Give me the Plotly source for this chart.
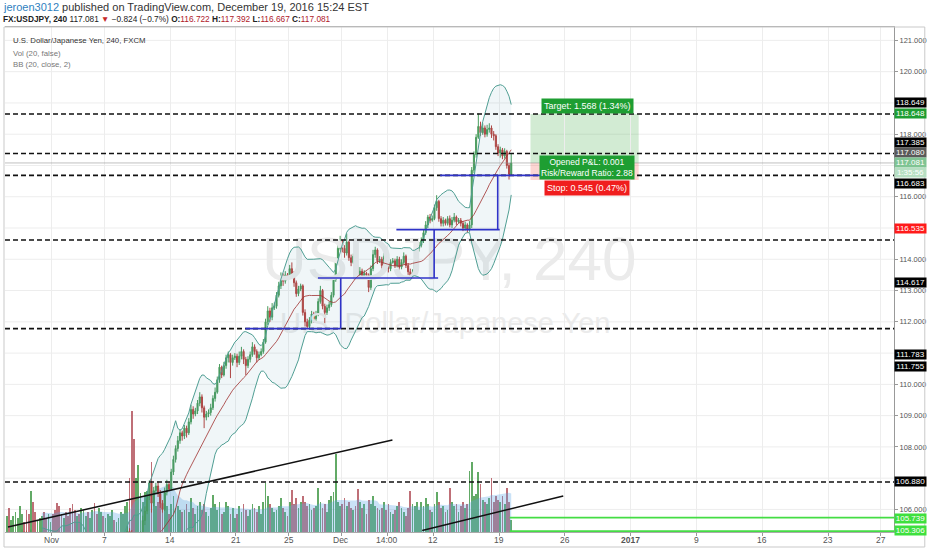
import numpy as np
import pandas as pd
import plotly.graph_objects as go

# ---------------- data ----------------
first_day = "2016-10-26"
last_data_day = "2016-12-19"
axis_end_day = "2017-01-31"

bar_open = [
 104.25,104.30,104.18,104.35,104.52,104.40,
 104.45,104.50,104.62,104.80,105.05,105.25,
 105.22,105.20,105.05,105.15,104.90,104.70,
 104.72,104.80,104.95,104.85,104.70,104.80,
 104.82,104.70,104.60,104.40,104.10,103.95,
 104.05,103.80,103.50,103.20,103.00,102.80,
 102.95,102.75,102.90,103.10,103.30,103.05,
 103.10,103.20,103.05,102.80,103.10,103.20,
 103.15,104.00,104.20,104.40,104.55,104.45,
 104.48,104.60,104.70,104.80,105.00,105.30,
 105.15,104.40,101.90,103.20,104.30,105.10,
 105.65,105.95,106.40,106.85,106.20,106.60,
 106.75,106.50,106.20,106.00,106.55,106.80,
 106.65,107.20,107.60,107.95,108.20,108.45,
 108.35,108.60,108.45,108.80,109.20,109.05,
 109.15,109.40,109.60,109.25,108.95,109.05,
 109.10,109.25,109.55,109.75,110.15,110.55,
 110.30,110.60,110.85,110.95,110.70,110.85,
 110.90,110.70,110.90,111.05,110.80,110.60,
 110.80,110.95,111.20,111.05,110.85,110.95,
 111.05,111.35,112.00,112.35,112.15,112.45,
 112.50,112.85,113.15,113.45,113.30,113.50,
 113.42,113.70,113.55,113.25,112.90,113.05,
 113.15,112.30,112.00,111.85,112.05,112.25,
 112.10,112.25,112.65,113.00,112.50,112.30,
 112.45,112.55,112.85,113.35,113.95,114.35,
 114.50,114.35,114.20,114.55,114.05,113.90,
 114.10,113.75,113.50,113.62,113.45,113.55,
 113.50,113.10,113.70,114.15,114.30,113.95,
 114.00,113.80,114.10,113.90,113.70,113.90,
 113.95,113.80,114.00,113.75,113.90,114.10,
 113.80,113.60,113.45,113.55,113.95,114.35,
 114.45,114.60,114.85,115.10,115.35,115.25,
 115.30,115.65,115.85,115.30,115.15,115.25,
 115.15,115.30,115.10,115.25,115.35,115.20,
 115.25,115.15,115.00,115.10,114.95,115.10,
 116.85,117.35,117.90,118.25,118.05,118.20,
 118.00,118.15,118.20,118.00,117.95,117.60,
 117.40,117.50,117.30,117.45,117.00,116.722,
]
bar_high = [
 104.42,104.38,104.45,104.66,104.60,104.55,
 104.60,104.70,104.88,105.15,105.35,105.30,
 105.32,105.28,105.36,105.20,104.98,104.80,
 104.88,105.02,105.04,104.90,104.86,104.88,
 104.90,104.78,104.66,104.46,104.18,104.12,
 104.10,103.86,103.58,103.30,103.06,103.02,
 103.00,102.98,103.20,103.45,103.36,103.18,
 103.28,103.30,103.12,103.20,103.32,103.25,
 104.10,104.30,104.52,104.62,104.66,104.56,
 104.68,104.80,104.90,105.10,105.48,105.40,
 105.34,104.50,103.40,104.50,105.30,105.80,
 106.10,106.55,106.93,106.90,106.72,106.85,
 106.90,106.62,106.30,106.70,106.95,106.88,
 107.30,107.72,108.05,108.35,108.55,108.52,
 108.70,108.68,108.92,109.35,109.30,109.25,
 109.50,109.75,109.68,109.32,109.15,109.20,
 109.38,109.65,109.90,110.25,110.65,110.60,
 110.72,110.95,111.05,111.00,110.95,111.00,
 110.98,111.05,111.20,111.12,110.88,110.90,
 111.05,111.35,111.28,111.12,111.05,111.15,
 111.45,112.10,112.50,112.45,112.60,112.62,
 112.95,113.28,113.58,113.55,113.62,113.56,
 113.82,113.90,113.62,113.32,113.15,113.22,
 113.20,112.40,112.10,112.15,112.35,112.32,
 112.35,112.75,113.15,113.05,112.58,112.55,
 112.65,112.95,113.45,114.05,114.48,114.75,
 114.62,114.45,114.82,114.60,114.15,114.18,
 114.15,113.82,113.75,113.70,113.65,113.60,
 113.55,113.80,114.30,114.40,114.35,114.10,
 114.08,114.20,114.18,113.98,114.00,114.04,
 114.02,114.10,114.08,114.00,114.22,114.15,
 113.88,113.70,113.68,114.05,114.45,114.55,
 114.70,114.95,115.22,115.42,115.45,115.40,
 115.75,116.05,115.90,115.38,115.35,115.30,
 115.38,115.40,115.35,115.48,115.40,115.32,
 115.32,115.22,115.20,115.15,115.22,116.95,
 117.45,118.00,118.66,118.40,118.35,118.28,
 118.30,118.35,118.28,118.10,118.00,117.68,
 117.60,117.56,117.55,117.50,117.08,117.392,
]
bar_low = [
 104.12,104.05,104.10,104.28,104.30,104.32,
 104.38,104.44,104.55,104.75,104.98,105.12,
 105.10,104.96,104.98,104.80,104.55,104.62,
 104.65,104.74,104.78,104.62,104.64,104.74,
 104.64,104.50,104.30,104.00,103.85,103.90,
 103.72,103.40,103.10,102.88,102.55,102.72,
 102.65,102.66,102.84,103.02,102.96,103.00,
 103.02,102.95,102.62,102.72,103.02,103.08,
 103.15,103.92,104.12,104.30,104.38,104.40,
 104.42,104.52,104.62,104.74,104.92,104.95,
 104.10,101.20,101.70,103.00,104.20,104.95,
 105.50,105.85,106.30,105.90,106.10,106.50,
 106.40,106.05,105.90,105.95,106.45,106.58,
 106.60,107.10,107.50,107.85,108.10,108.20,
 108.25,108.30,108.38,108.72,108.90,108.98,
 109.05,109.30,109.10,108.60,108.85,108.95,
 109.00,109.18,109.45,109.70,110.05,110.20,
 110.25,110.50,110.70,110.20,110.60,110.78,
 110.55,110.62,110.80,110.65,110.30,110.52,
 110.70,110.88,110.95,110.70,110.78,110.90,
 110.98,111.30,111.90,112.00,112.05,112.38,
 112.42,112.78,113.05,113.15,113.22,113.34,
 113.38,113.45,113.12,112.80,112.82,112.98,
 112.20,111.85,111.78,111.80,111.95,111.98,
 112.00,112.18,112.58,112.40,111.95,112.22,
 112.35,112.48,112.78,113.28,113.88,114.28,
 114.22,114.05,114.12,113.95,113.78,113.85,
 113.65,113.38,113.42,113.35,113.38,113.42,
 112.95,113.02,113.62,114.05,113.85,113.88,
 113.70,113.72,113.80,113.58,113.62,113.86,
 113.72,113.74,113.66,113.68,113.84,113.72,
 113.50,113.38,113.40,113.48,113.90,114.25,
 114.38,114.52,114.78,115.00,115.15,115.20,
 115.25,115.55,115.20,115.05,115.05,115.08,
 115.08,115.02,115.00,115.18,115.10,115.15,
 115.05,114.90,114.92,114.85,114.88,115.00,
 116.75,117.25,117.85,117.95,117.98,117.90,
 117.92,118.05,117.88,117.80,117.50,117.30,
 117.25,117.20,117.22,116.90,116.55,116.667,
]
bar_close = [
 104.30,104.18,104.35,104.52,104.40,104.45,
 104.50,104.62,104.80,105.05,105.25,105.22,
 105.20,105.05,105.15,104.90,104.70,104.72,
 104.80,104.95,104.85,104.70,104.80,104.82,
 104.70,104.60,104.40,104.10,103.95,104.05,
 103.80,103.50,103.20,103.00,102.80,102.95,
 102.75,102.90,103.10,103.30,103.05,103.10,
 103.20,103.05,102.80,103.10,103.20,103.15,
 104.00,104.20,104.40,104.55,104.45,104.48,
 104.60,104.70,104.80,105.00,105.30,105.15,
 104.40,101.90,103.20,104.30,105.10,105.65,
 105.95,106.40,106.85,106.20,106.60,106.75,
 106.50,106.20,106.00,106.55,106.80,106.65,
 107.20,107.60,107.95,108.20,108.45,108.35,
 108.60,108.45,108.80,109.20,109.05,109.15,
 109.40,109.60,109.25,108.95,109.05,109.10,
 109.25,109.55,109.75,110.15,110.55,110.30,
 110.60,110.85,110.95,110.70,110.85,110.90,
 110.70,110.90,111.05,110.80,110.60,110.80,
 110.95,111.20,111.05,110.85,110.95,111.05,
 111.35,112.00,112.35,112.15,112.45,112.50,
 112.85,113.15,113.45,113.30,113.50,113.42,
 113.70,113.55,113.25,112.90,113.05,113.15,
 112.30,112.00,111.85,112.05,112.25,112.10,
 112.25,112.65,113.00,112.50,112.30,112.45,
 112.55,112.85,113.35,113.95,114.35,114.50,
 114.35,114.20,114.55,114.05,113.90,114.10,
 113.75,113.50,113.62,113.45,113.55,113.50,
 113.10,113.70,114.15,114.30,113.95,114.00,
 113.80,114.10,113.90,113.70,113.90,113.95,
 113.80,114.00,113.75,113.90,114.10,113.80,
 113.60,113.45,113.55,113.95,114.35,114.45,
 114.60,114.85,115.10,115.35,115.25,115.30,
 115.65,115.85,115.30,115.15,115.25,115.15,
 115.30,115.10,115.25,115.35,115.20,115.25,
 115.15,115.00,115.10,114.95,115.10,116.85,
 117.35,117.90,118.25,118.05,118.20,118.00,
 118.15,118.20,118.00,117.95,117.60,117.40,
 117.50,117.30,117.45,117.00,116.722,117.081,
]
bar_volume = [
 14,18,22,16,24,12,
 16,20,14,26,18,10,
 22,18,41,30,20,12,
 14,16,20,14,18,10,
 18,22,29,26,18,14,
 20,16,24,28,22,16,
 18,24,22,16,20,14,
 22,29,18,24,20,16,
 14,18,16,22,12,10,
 14,20,18,26,30,54,
 121,93,54,67,39,30,
 40,41,35,70,41,26,
 30,38,24,39,26,18,
 28,36,24,26,22,20,
 22,28,20,34,24,18,
 26,30,22,28,20,16,
 24,37,28,22,30,18,
 20,30,26,18,24,14,
 18,26,20,28,22,16,
 22,28,24,20,26,18,
 30,49,36,28,24,20,
 22,26,34,24,20,16,
 30,42,28,34,24,30,
 36,30,26,28,22,24,
 26,44,30,24,28,20,
 32,36,40,78,30,26,
 28,34,26,30,24,22,
 26,43,30,24,28,18,
 32,28,36,26,24,22,
 24,30,22,28,20,18,
 22,26,30,24,20,16,
 24,41,28,26,30,22,
 30,26,34,28,22,20,
 28,40,30,24,26,20,
 22,44,30,26,28,20,
 26,30,24,28,61,70,
 36,38,60,48,32,30,
 28,34,54,30,36,32,
 30,36,28,44,30,12,
]

# horizontal levels drawn on the chart
dashed_levels = [118.648, 117.385, 116.683, 114.617, 111.783, 106.880]
green_levels = [105.739, 105.306]
last_price = 117.081
entry_price = 117.080
target_price = 118.648
stop_price = 116.535

# price-axis ticks (the others are hidden behind the line labels in the original)
price_grid = [106, 107, 108, 109, 110, 111, 112, 113, 114, 115, 116, 117, 118, 119, 120, 121]
price_ticks_shown = [106, 108, 109, 110, 112, 113, 114, 116, 118, 120, 121]

x_tick_dates = ["2016-11-01", "2016-11-07", "2016-11-14", "2016-11-21", "2016-11-25",
                "2016-12-01", "2016-12-06", "2016-12-12", "2016-12-19", "2016-12-26",
                "2017-01-02", "2017-01-09", "2017-01-16", "2017-01-23", "2017-01-27"]
x_tick_texts = ["Nov", "7", "14", "21", "25", "Dec", "14:00", "12", "19", "26",
                "<b>2017</b>", "9", "16", "23", "27"]
x_tick_dayfrac = [0, 0, 0, 0, 0, 0, 0.5, 0, 0, 0, 0, 0, 0, 0, 0]

# ---------------- derived ----------------
trade_days = pd.bdate_range(first_day, axis_end_day)
day_pos = {d.strftime("%Y-%m-%d"): i for i, d in enumerate(trade_days)}
n_bars = len(bar_close)
bar_x = [i // 6 + (i % 6 + 0.5) / 6 for i in range(n_bars)]
tick_vals = [day_pos[d] + f for d, f in zip(x_tick_dates, x_tick_dayfrac)]

close_s = pd.Series(bar_close)
bb_mid = close_s.rolling(20).mean()
bb_std = close_s.rolling(20).std(ddof=0)
bb_up = bb_mid + 2 * bb_std
bb_lo = bb_mid - 2 * bb_std
vol_ma = pd.Series(bar_volume, dtype=float).rolling(20).mean()

UP = "#4a9c5d"
DN = "#b8433f"
vol_colors = ["rgba(70,155,75,0.85)" if c >= o else "rgba(175,75,85,0.8)"
              for o, c in zip(bar_open, bar_close)]

FONT = "Liberation Sans, Arial, sans-serif"

fig = go.Figure()

# watermark
fig.add_trace(go.Scatter(x=[34.2], y=[113.82], mode="text", text=["USDJPY, 240"],
                         textfont=dict(size=62, color="#ebebeb", family=FONT),
                         yaxis="y2", hoverinfo="skip"))
fig.add_trace(go.Scatter(x=[33.9], y=[111.87], mode="text", text=["U.S. Dollar/Japanese Yen"],
                         textfont=dict(size=29, color="#ebebeb", family=FONT),
                         yaxis="y2", hoverinfo="skip"))

# volume
fig.add_trace(go.Bar(x=bar_x, y=bar_volume, marker=dict(color=vol_colors, line=dict(width=0)),
                     width=0.8 / 6, yaxis="y", hoverinfo="skip"))
fig.add_trace(go.Scatter(x=bar_x, y=vol_ma, mode="lines", line=dict(width=0),
                         fill="tozeroy", fillcolor="rgba(90,165,230,0.32)", yaxis="y",
                         hoverinfo="skip"))

# Bollinger bands
fig.add_trace(go.Scatter(x=bar_x, y=bb_lo, mode="lines", line=dict(color="#4f9e93", width=1),
                         yaxis="y2", hoverinfo="skip"))
fig.add_trace(go.Scatter(x=bar_x, y=bb_up, mode="lines", line=dict(color="#4f9e93", width=1),
                         fill="tonexty", fillcolor="rgba(40,130,150,0.07)", yaxis="y2",
                         hoverinfo="skip"))
fig.add_trace(go.Scatter(x=bar_x, y=bb_mid, mode="lines", line=dict(color="#a0302e", width=0.8),
                         yaxis="y2", hoverinfo="skip"))

# candles
fig.add_trace(go.Candlestick(x=bar_x, open=bar_open, high=bar_high, low=bar_low, close=bar_close,
                             increasing=dict(line=dict(color=UP, width=1), fillcolor=UP),
                             decreasing=dict(line=dict(color=DN, width=1), fillcolor=DN),
                             whiskerwidth=0, yaxis="y2", hoverinfo="skip"))

shapes = []
# horizontal grid lines at every price level
for g in price_grid:
    shapes.append(dict(type="line", xref="paper", yref="y2", x0=0, x1=1, y0=g, y1=g,
                       line=dict(color="#ededed", width=1), layer="below"))
# position tool
x_pos0, x_pos1 = 40.38, 48.6
shapes.append(dict(type="rect", xref="x", yref="y2", x0=x_pos0, x1=x_pos1, y0=entry_price,
                   y1=target_price, fillcolor="rgba(76,175,80,0.25)", line=dict(width=0), layer="below"))
shapes.append(dict(type="rect", xref="x", yref="y2", x0=x_pos0, x1=x_pos1, y0=stop_price,
                   y1=entry_price, fillcolor="rgba(244,67,54,0.22)", line=dict(width=0), layer="below"))
# last price line
shapes.append(dict(type="line", xref="paper", yref="y2", x0=0, x1=1, y0=last_price, y1=last_price,
                   line=dict(color="rgba(140,140,140,0.55)", width=1)))
# dashed horizontal levels
for lv in dashed_levels:
    shapes.append(dict(type="line", xref="paper", yref="y2", x0=0, x1=1, y0=lv, y1=lv,
                       line=dict(color="#111", width=1.6, dash="5px,3px")))
# green levels
for lv in green_levels:
    shapes.append(dict(type="line", xref="x", yref="y2", x0=38.79, x1=68.0, y0=lv, y1=lv,
                       line=dict(color="#44dd44", width=1.6)))
# blue measuring lines
BLUE = "#2f33c8"
blue_segs = [
    (18.72, 111.783, 25.96, 111.783),
    (25.96, 111.783, 25.96, 113.40),
    (24.23, 113.40, 33.36, 113.40),
    (33.06, 113.40, 33.06, 114.95),
    (30.19, 114.95, 38.04, 114.95),
    (37.89, 114.95, 37.89, 116.683),
    (33.51, 116.683, 41.2, 116.683),
]
for x0, y0, x1, y1 in blue_segs:
    shapes.append(dict(type="line", xref="x", yref="y2", x0=x0, y0=y0, x1=x1, y1=y1,
                       line=dict(color=BLUE, width=1.6)))
# black trend lines
for x0, y0, x1, y1 in [(0.68, 105.44, 29.89, 108.22), (32.15, 105.33, 42.87, 106.43)]:
    shapes.append(dict(type="line", xref="x", yref="y2", x0=x0, y0=y0, x1=x1, y1=y1,
                       line=dict(color="#111", width=1.5)))
# frame
shapes.append(dict(type="rect", xref="paper", yref="paper", x0=-1 / 895, x1=1 + 31 / 895,
                   y0=-15 / 505, y1=1, line=dict(color="#c9c9c9", width=1)))

annotations = []
def px_x(p):
    return (p - 5) / 895
def px_y(p):
    return (532 - p) / 505

header1 = ('<span style="color:#2f7fc0">jeroen3012</span> published on TradingView.com, '
           'December 19, 2016 15:24 EST')
R = "#b0202a"
header2 = ('<b>FX:USDJPY, 240</b> 117.081 <span style="color:#c62828">▼</span> −0.824 (−0.7%) '
           f'<b>O:</b><span style="color:{R}">116.722</span> <b>H:</b><span style="color:{R}">117.392</span> '
           f'<b>L:</b><span style="color:{R}">116.667</span> <b>C:</b><span style="color:{R}">117.081</span>')
annotations.append(dict(xref="paper", yref="paper", x=px_x(1), y=px_y(7), text=header1,
                        showarrow=False, xanchor="left", yanchor="middle",
                        font=dict(size=11, color="#333", family=FONT)))
annotations.append(dict(xref="paper", yref="paper", x=px_x(1), y=px_y(19), text=header2,
                        showarrow=False, xanchor="left", yanchor="middle",
                        font=dict(size=8.3, color="#222", family=FONT)))
for txt, yy, col in [("U.S. Dollar/Japanese Yen, 240, FXCM", 40, "#333"),
                     ("Vol (20, false)", 53, "#777"), ("BB (20, close, 2)", 65, "#777")]:
    annotations.append(dict(xref="paper", yref="paper", x=px_x(11), y=px_y(yy), text=txt,
                            showarrow=False, xanchor="left", yanchor="middle",
                            font=dict(size=7.8, color=col, family=FONT)))

# x-axis labels
for tv, tt in zip(tick_vals, x_tick_texts):
    annotations.append(dict(xref="x", yref="paper", x=tv, y=px_y(540), text=tt,
                            showarrow=False, xanchor="center", yanchor="middle",
                            font=dict(size=8.5, color="#555", family=FONT)))

# right-hand price labels (as displayed, stacked)
price_labels = [
    ("118.649", 118.998, "#000000", "#ffffff"),
    ("118.648", 118.678, "#1e9e32", "#ffffff"),
    ("117.385", 117.740, "#000000", "#ffffff"),
    ("117.080", 117.415, "#5a5a5a", "#ffffff"),
    ("117.081", 117.080, "#7fc493", "#ffffff"),
    ("1:35:56", 116.760, "#b7dfc3", "#ffffff"),
    ("116.683", 116.408, "#000000", "#ffffff"),
    ("116.535", 115.000, "#ff1a1a", "#ffffff"),
    ("114.617", 113.270, "#000000", "#ffffff"),
    ("111.783", 110.940, "#000000", "#ffffff"),
    ("111.755", 110.560, "#000000", "#ffffff"),
    ("106.880", 106.880, "#000000", "#ffffff"),
    ("105.739", 105.715, "#3ee03e", "#ffffff"),
    ("105.306", 105.330, "#3ee03e", "#ffffff"),
]
for txt, yy, bg, fg in price_labels:
    annotations.append(dict(xref="paper", yref="y2", x=1.0, y=yy, text=txt, showarrow=False,
                            xanchor="left", yanchor="middle", bgcolor=bg, width=31, height=9,
                            borderpad=0, font=dict(size=8, color=fg, family=FONT)))

# position tool labels
pos_x = 44.68
annotations.append(dict(xref="x", yref="y2", x=pos_x, y=118.90, text="Target: 1.568 (1.34%)",
                        showarrow=False, bgcolor="#1e9e32", borderpad=2,
                        font=dict(size=9, color="white", family=FONT)))
annotations.append(dict(xref="x", yref="y2", x=pos_x, y=116.94,
                        text="Opened P&L: 0.001<br>Risk/Reward Ratio: 2.88",
                        showarrow=False, bgcolor="#1e9e32", borderpad=1,
                        font=dict(size=8.5, color="white", family=FONT)))
annotations.append(dict(xref="x", yref="y2", x=pos_x, y=116.28, text="Stop: 0.545 (0.47%)",
                        showarrow=False, bgcolor="#f01e1e", borderpad=2,
                        font=dict(size=9, color="white", family=FONT)))

fig.update_layout(
    width=932, height=550,
    margin=dict(l=5, r=32, t=27, b=18),
    paper_bgcolor="white", plot_bgcolor="white",
    showlegend=False,
    font=dict(family=FONT, color="#555"),
    shapes=shapes, annotations=annotations,
    bargap=0,
    xaxis=dict(range=[0.453, 68.0], tickvals=tick_vals, showticklabels=False,
               showgrid=True, gridcolor="#ededed", gridwidth=1, zeroline=False,
               ticks="outside", ticklen=3,
               tickcolor="#999", showline=True, linecolor="#aaaaaa", mirror=True,
               rangeslider=dict(visible=False), fixedrange=True),
    yaxis=dict(range=[0, 505], visible=False, fixedrange=True),
    yaxis2=dict(overlaying="y", side="right", range=[105.279, 121.428],
                tickvals=price_ticks_shown,
                tickformat=".3f", showgrid=False, zeroline=False,
                tickfont=dict(size=7.5, color="#555", family=FONT), ticks="outside", ticklen=3,
                tickcolor="#999", showline=True, linecolor="#999", fixedrange=True),
)

fig.write_html("out.html",
               config={"displayModeBar": False},
               post_script="document.body.style.margin='0';document.body.style.padding='0';"
                           "document.documentElement.style.overflow='hidden';")
